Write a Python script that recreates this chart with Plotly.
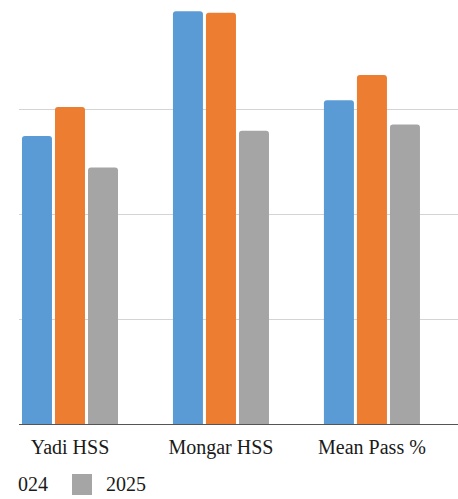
import plotly.graph_objects as go

categories = ["Yadi HSS", "Mongar HSS", "Mean Pass %"]
series_names = ["2023", "2024", "2025"]
values_2023 = [68.6, 98.3, 77.1]
values_2024 = [75.5, 97.9, 83.1]
values_2025 = [61.1, 69.8, 71.3]
series_values = [values_2023, values_2024, values_2025]
colors = ["#5B9BD5", "#ED7D31", "#A5A5A5"]

W, H = 458, 499
ML, MR, MT, MB = 19, 0, 4, 75
pw, ph = W - ML - MR, H - MT - MB

def px_x(p):
    return (p - ML) / pw

def px_y(p):
    return (H - MB - p) / ph

fig = go.Figure()
for name, vals, c in zip(series_names, series_values, colors):
    fig.add_trace(go.Bar(
        x=categories, y=vals, name=name,
        marker=dict(color=c, cornerradius=3, line=dict(width=0)),
        showlegend=False,
    ))

font_family = "Liberation Serif"
FS = 20

# manual legend (partially clipped at the left, as in the reference)
legend_sq_x = [-124, -26, 72]
shapes = []
annotations = []
for name, c, sx in zip(series_names, colors, legend_sq_x):
    shapes.append(dict(
        type="rect", xref="paper", yref="paper",
        x0=px_x(sx), x1=px_x(sx + 20), y0=px_y(495), y1=px_y(474),
        fillcolor=c, line=dict(width=0), layer="above",
    ))
    annotations.append(dict(
        text=name, xref="paper", yref="paper",
        x=px_x(sx + 32), y=px_y(484), xanchor="left", yanchor="middle",
        showarrow=False, font=dict(family=font_family, size=FS, color="#1a1a1a"),
    ))
# white margin strip at the left edge
annotations.append(dict(
    text=" ", xref="paper", yref="paper", x=px_x(0), y=px_y(460),
    xanchor="left", yanchor="top", width=18, height=39, bgcolor="white",
    borderpad=0, borderwidth=0, showarrow=False,
))

fig.update_layout(
    width=W, height=H,
    margin=dict(l=ML, r=MR, t=MT, b=MB),
    paper_bgcolor="white", plot_bgcolor="white",
    barmode="group", bargap=0.344, bargroupgap=0.091,
    shapes=shapes, annotations=annotations,
    font=dict(family=font_family, size=FS, color="#1a1a1a"),
    xaxis=dict(
        range=[-0.3377, 2.57], showgrid=False, zeroline=False,
        showline=True, linecolor="#555", linewidth=1.3,
        ticks="", ticklabelstandoff=5,
        tickfont=dict(family=font_family, size=FS, color="#1a1a1a"),
    ),
    yaxis=dict(
        range=[0, 100], dtick=25, showgrid=True, gridcolor="#D4D4D4",
        gridwidth=1, zeroline=False, showticklabels=False, ticks="",
    ),
)

fig.write_html("out.html")
